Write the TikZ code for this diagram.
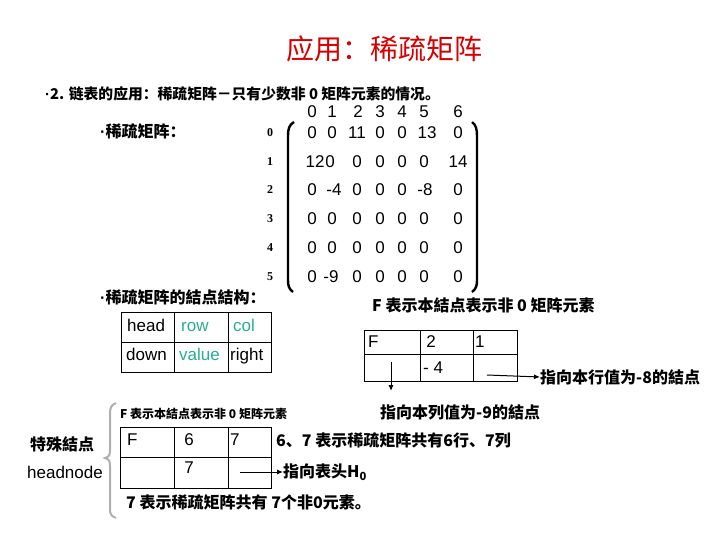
\documentclass[tikz,border=0pt]{standalone}
\usepackage{fontspec}
\setmainfont{Liberation Sans}
\newfontfamily\cjk{Noto Sans CJK SC}
\newfontfamily\serifb{Liberation Serif}
\usetikzlibrary{arrows.meta}
\definecolor{titlered}{RGB}{214,0,0}
\definecolor{teal}{RGB}{40,172,150}
\definecolor{bracegray}{RGB}{175,175,175}
\newcommand{\sdot}{{\rmfamily\bfseries ·}}
\begin{document}
\begin{tikzpicture}[x=1pt,y=-1pt,
  every node/.style={inner sep=0pt},
  num/.style={font=\fontsize{17}{17}\selectfont},
  rlab/.style={font=\serifb\bfseries\fontsize{12}{12}\selectfont},
  cjkt/.style={font=\cjk\bfseries\fontsize{16}{16}\selectfont},
  cell/.style={font=\fontsize{17}{17}\selectfont},
  tbl/.style={draw=black,line width=0.8pt},
  arr/.style={line width=1pt,-{Latex[length=6pt,width=5pt]}}]
\useasboundingbox (0,0) rectangle (720,540);
% title
\node[font=\cjk\fontsize{28}{28}\selectfont,text=titlered] (title) at (384,49) {应用：稀疏矩阵};
\node[cjkt,anchor=west,font=\cjk\bfseries\fontsize{14.8}{15}\selectfont] (intro) at (45,94) {\sdot2. 链表的应用：稀疏矩阵－只有少数非 0 矩阵元素的情况。};
\node[cjkt,anchor=west] (sparse) at (100,131) {\sdot 稀疏矩阵：};
\node[cjkt,anchor=west] (struct) at (100,297) {\sdot 稀疏矩阵的結点結构：};
% column headers
\foreach \x/\t [count=\i] in {312/0,332/1,358/2,380/3,402/4,424/5,458/6}
  \node[num] (h\i) at (\x,112) {\t};
% row labels
\foreach \y/\t [count=\i] in {133/0,162/1,190/2,219/3,248/4,277/5}
  \node[rlab] (r\i) at (270,\y) {\t};
% entries
\foreach \x/\y/\t [count=\i] in {
 312/133/0,332/133/0,357/133/11,380/133/0,402/133/0,427/133/13,458/133/0,
 315/162/12,330/162/0,357/162/0,380/162/0,402/162/0,424/162/0,458/162/14,
 312/190/0,334/190/-4,357/190/0,380/190/0,402/190/0,425/190/-8,458/190/0,
 312/219/0,332/219/0,357/219/0,380/219/0,402/219/0,424/219/0,458/219/0,
 312/248/0,332/248/0,357/248/0,380/248/0,402/248/0,424/248/0,458/248/0,
 312/277/0,331/277/-9,357/277/0,380/277/0,402/277/0,424/277/0,458/277/0}
  \node[num] (m\i) at (\x,\y) {\t};
% brackets
\draw[line width=2.4pt] (294,122) .. controls (289,125) and (288,129) .. (288,136) -- (288,280) .. controls (288,286) and (289,289) .. (293,292);
\draw[line width=2.4pt] (472,122) .. controls (476,125) and (477,129) .. (477,136) -- (477,280) .. controls (477,286) and (476,289) .. (472,292);
% node structure table
\draw[tbl] (121,312) rectangle (271,372);
\draw[tbl] (121,342) -- (271,342) (174,312) -- (174,372) (228,312) -- (228,372);
\node[cell,anchor=base west] (head) at (127,331) {head};
\node[cell,anchor=base west,text=teal] (row) at (181,331) {row};
\node[cell,anchor=base west,text=teal] (col) at (233,331) {col};
\node[cell,anchor=base west] (down) at (126,360) {down};
\node[cell,anchor=base west,text=teal] (value) at (179,360) {value};
\node[cell,anchor=base west] (right) at (230,360) {right};
% example node
\node[cjkt,anchor=west] (fnote) at (372,305) {F 表示本結点表示非 0 矩阵元素};
\draw[tbl] (364,330) rectangle (517,381);
\draw[tbl] (364,354) -- (517,354) (420,330) -- (420,381) (473,330) -- (473,381);
\node[cell,anchor=base west] (eF) at (368,347) {F};
\node[cell,anchor=base] (e2) at (431,347) {2};
\node[cell,anchor=base west] (e1) at (475,347) {1};
\node[cell,anchor=base west] (e4) at (423,373) {- 4};
\coordinate (dstart) at (391,362);
\node[cjkt,anchor=west] (down9) at (380,412) {指向本列值为-9的結点};
\draw[arr] (dstart) -- (391,391);
\coordinate (rstart) at (487,375);
\node[cjkt,anchor=west] (right8) at (540,377) {指向本行值为-8的結点};
\draw[arr] (rstart) -- (right8.west);
% head node
\node[font=\cjk\bfseries\fontsize{16}{16}\selectfont] (special) at (62,444) {特殊結点};
\node[font=\fontsize{17}{17}\selectfont] (headnode) at (65,472) {headnode};
\draw[bracegray,line width=2pt] (116,403) .. controls (111,405) and (110,408) .. (110,414) -- (110,450) .. controls (110,455) and (109,457) .. (105,458) .. controls (109,459) and (110,461) .. (110,466) -- (110,509) .. controls (110,514) and (111,516) .. (116,518);
\node[font=\cjk\bfseries\fontsize{12}{12}\selectfont,anchor=west] (fnote2) at (120,414) {F 表示本結点表示非 0 矩阵元素};
\draw[tbl] (120,427) rectangle (271,488);
\draw[tbl] (120,457) -- (271,457) (174,427) -- (174,488) (228,427) -- (228,488);
\node[cell,anchor=base west] (hF) at (127,445) {F};
\node[cell,anchor=base] (h6) at (189,445) {6};
\node[cell,anchor=base west] (h7) at (230,445) {7};
\node[cell,anchor=base] (hv7) at (189,473) {7};
\node[cjkt,anchor=west] (rowcol) at (276,440) {6、7 表示稀疏矩阵共有6行、7列};
\coordinate (hstart) at (240,472);
\node[cjkt,anchor=west] (tohead) at (283,472) {指向表头H\textsubscript{0}};
\draw[arr] (hstart) -- (tohead.west);
\node[cjkt,anchor=west] (count) at (126,502) {7 表示稀疏矩阵共有 7个非0元素。};
\end{tikzpicture}
\end{document}
